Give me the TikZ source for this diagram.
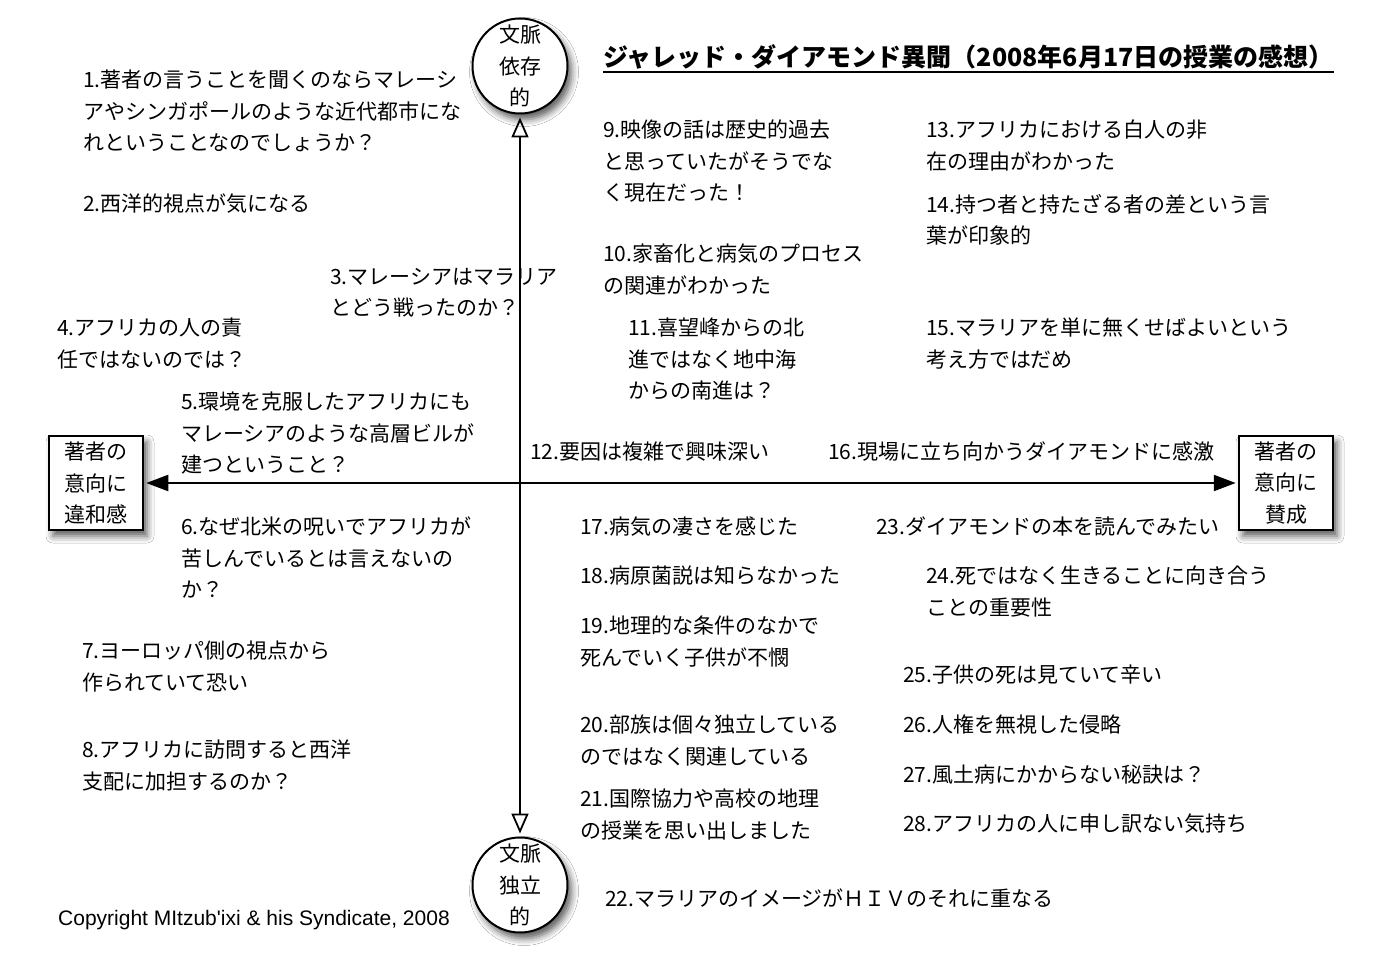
\documentclass[tikz,border=0pt]{standalone}
\usepackage{fontspec}
\setmainfont{Noto Sans CJK JP}
\newfontfamily\copyfont{Liberation Sans}
\usetikzlibrary{arrows.meta,shadows.blur}
\begin{document}
\begin{tikzpicture}[x=1pt,y=-1pt,
  txt/.style={anchor=north west,inner sep=0pt,align=left,font=\fontsize{21}{31.5}\selectfont},
  circ/.style={circle,draw,line width=2pt,fill=white,minimum size=95pt,inner sep=0pt,align=center,
    font=\fontsize{21}{31.5}\selectfont,
    blur shadow={shadow xshift=4pt,shadow yshift=-6pt,shadow blur radius=7pt,shadow opacity=65}},
  sbox/.style={rectangle,draw,line width=2.5pt,fill=white,minimum width=94pt,minimum height=94pt,inner sep=0pt,align=center,
    font=\fontsize{21}{31.5}\selectfont,
    blur shadow={shadow xshift=4pt,shadow yshift=-6pt,shadow blur radius=7pt,shadow opacity=65}},
  otip/.tip={Triangle[open,length=20pt,width=17pt,line width=1.8pt]},
  ftip/.tip={Triangle[length=22pt,width=16pt]},
  openarr/.style={line width=2.2pt,otip-otip},
  fillarr/.style={line width=2.2pt,ftip-ftip}
]
\useasboundingbox (0,0) rectangle (1397,968);
\fill[white] (0,0) rectangle (1397,968);

% title
\node[anchor=west,inner sep=0pt,font=\fontsize{25}{30}\selectfont\bfseries] (title) at (603,57) {ジャレッド・ダイアモンド異聞（2008年6月17日の授業の感想）};
\coordinate (ulA) at (603,72);
\coordinate (ulB) at (1334,72);
\draw[line width=2.5pt] (ulA) -- (ulB);

% poles
\node[circ] (top) at (520,66) {文脈\\依存\\的};
\node[circ] (bot) at (520,885) {文脈\\独立\\的};
\node[sbox] (lbox) at (96,483) {著者の\\意向に\\違和感};
\node[sbox] (rbox) at (1286,483) {著者の\\意向に\\賛成};

% axes
\draw[openarr] ([yshift=-3pt]top.south) -- ([yshift=3pt]bot.north);
\draw[fillarr] ([xshift=2pt]lbox.east) -- ([xshift=-2pt]rbox.west);

% left items
\node[txt] (i1) at (83,70) {1.著者の言うことを聞くのならマレーシ\\アやシンガポールのような近代都市にな\\れということなのでしょうか？};
\node[txt] (i2) at (83,194) {2.西洋的視点が気になる};
\node[txt] (i3) at (330,268) {3.マレーシアはマラリア\\とどう戦ったのか？};
\node[txt] (i4) at (57,318) {4.アフリカの人の責\\任ではないのでは？};
\node[txt] (i5) at (181,392) {5.環境を克服したアフリカにも\\マレーシアのような高層ビルが\\建つということ？};
\node[txt] (i6) at (181,517) {6.なぜ北米の呪いでアフリカが\\苦しんでいるとは言えないの\\か？};
\node[txt] (i7) at (82,641) {7.ヨーロッパ側の視点から\\作られていて恐い};
\node[txt] (i8) at (82,740) {8.アフリカに訪問すると西洋\\支配に加担するのか？};

% upper right
\node[txt] (i9) at (603,120) {9.映像の話は歴史的過去\\と思っていたがそうでな\\く現在だった！};
\node[txt] (i10) at (603,244) {10.家畜化と病気のプロセス\\の関連がわかった};
\node[txt] (i11) at (628,318) {11.喜望峰からの北\\進ではなく地中海\\からの南進は？};
\node[txt] (i12) at (530,442) {12.要因は複雑で興味深い};
\node[txt] (i13) at (926,120) {13.アフリカにおける白人の非\\在の理由がわかった};
\node[txt] (i14) at (926,194) {14.持つ者と持たざる者の差という言\\葉が印象的};
\node[txt] (i15) at (926,318) {15.マラリアを単に無くせばよいという\\考え方ではだめ};
\node[txt] (i16) at (828,442) {16.現場に立ち向かうダイアモンドに感激};

% lower right
\node[txt] (i17) at (580,517) {17.病気の凄さを感じた};
\node[txt] (i18) at (580,566) {18.病原菌説は知らなかった};
\node[txt] (i19) at (580,616) {19.地理的な条件のなかで\\死んでいく子供が不憫};
\node[txt] (i20) at (580,715) {20.部族は個々独立している\\のではなく関連している};
\node[txt] (i21) at (580,789) {21.国際協力や高校の地理\\の授業を思い出しました};
\node[txt] (i22) at (605,889) {22.マラリアのイメージがＨＩＶのそれに重なる};
\node[txt] (i23) at (876,517) {23.ダイアモンドの本を読んでみたい};
\node[txt] (i24) at (926,566) {24.死ではなく生きることに向き合う\\ことの重要性};
\node[txt] (i25) at (903,665) {25.子供の死は見ていて辛い};
\node[txt] (i26) at (903,715) {26.人権を無視した侵略};
\node[txt] (i27) at (903,765) {27.風土病にかからない秘訣は？};
\node[txt] (i28) at (903,814) {28.アフリカの人に申し訳ない気持ち};

% copyright
\node[anchor=west,inner sep=0pt,font=\copyfont\fontsize{21}{25}\selectfont] (copy) at (58,920) {Copyright MItzub'ixi \& his Syndicate, 2008};
\end{tikzpicture}
\end{document}
